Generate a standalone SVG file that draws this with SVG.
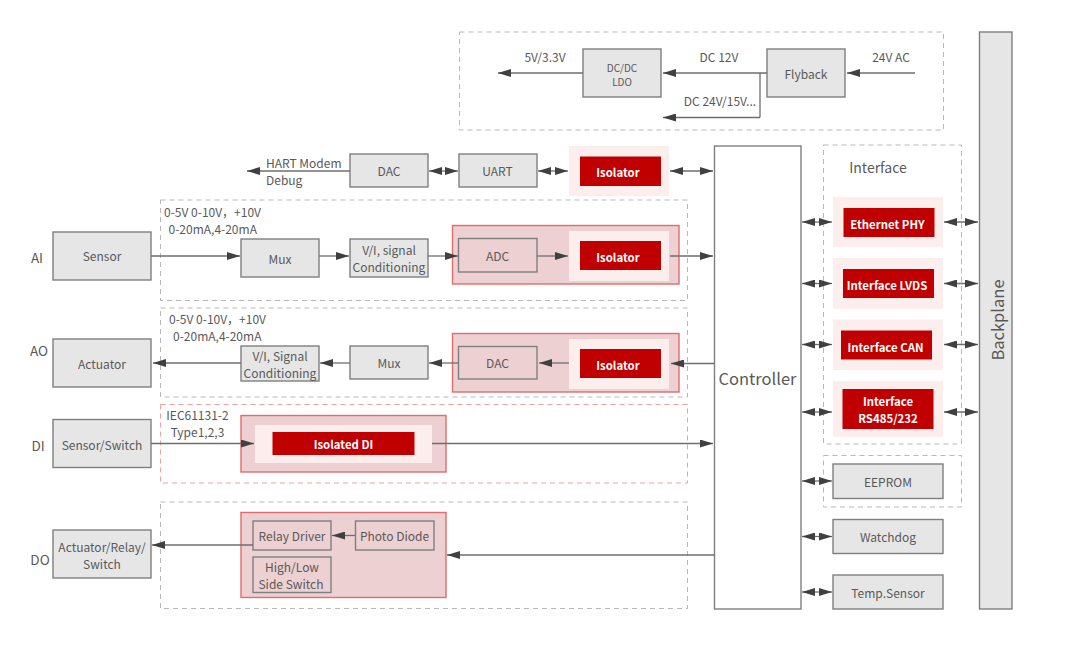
<svg xmlns="http://www.w3.org/2000/svg" width="1080" height="646" viewBox="0 0 1080 646">
<style>
text{font-family:"Noto Sans CJK SC","Noto Sans",sans-serif;font-size:12px;fill:#595959;text-anchor:middle;dominant-baseline:central}
.s{text-anchor:start}
.g{fill:#e6e6e6;stroke:#7f7f7f;stroke-width:1.4}
.n{fill:none;stroke:#7f7f7f;stroke-width:1.4}
.p{fill:#edd0d2;stroke:#e06c6c;stroke-width:1.4}
.o{fill:#fdeeee}
.r{fill:#c00000}
.w{fill:#fff;stroke:#7f7f7f;stroke-width:1.4}
.d{fill:none;stroke:#b8b8b8;stroke-width:1;stroke-dasharray:5 4}
.dr{fill:none;stroke:#f0a0a0;stroke-width:1;stroke-dasharray:5 4}
.t{fill:#fff;font-weight:700;font-size:11.400px}
.l{fill:none;stroke:#6e6e6e;stroke-width:1.3}
.a{marker-end:url(#h)}
.b{marker-end:url(#h);marker-start:url(#hs)}
</style>
<defs>
<marker id="h" markerUnits="userSpaceOnUse" markerWidth="14" markerHeight="8" refX="13" refY="4" orient="auto"><path d="M0 0L13 4L0 8Z" fill="#404040"/></marker>
<marker id="hs" markerUnits="userSpaceOnUse" markerWidth="14" markerHeight="8" refX="0" refY="4" orient="auto"><path d="M13 0L0 4L13 8Z" fill="#404040"/></marker>
</defs>
<g id="frames">
<rect class="d" x="459.500" y="32" width="484" height="98"/>
<rect class="d" x="160.500" y="200" width="527" height="100.500"/>
<rect class="d" x="160.500" y="308" width="527" height="89"/>
<rect class="dr" x="160.500" y="404.500" width="527" height="78.500"/>
<rect class="d" x="160.500" y="502" width="527" height="106.500"/>
<rect class="d" x="823.500" y="145" width="138" height="299"/>
<rect class="d" x="823.500" y="455.500" width="138" height="51.500"/>
</g>
<g id="power-labels">
<text x="545" y="56">5V/3.3V</text>
<text x="719" y="56">DC 12V</text>
<text x="720" y="100">DC 24V/15V...</text>
<text x="891" y="56">24V AC</text>
</g>
<g id="dcdc"><rect class="g" x="583" y="49" width="78" height="48"/><text x="622" y="67" style="font-size:10px">DC/DC</text><text x="622" y="81" style="font-size:10px">LDO</text></g>
<g id="flyback"><rect class="g" x="767" y="49" width="78" height="48"/><text x="806" y="73.500">Flyback</text></g>
<g id="hart"><text class="s" x="266" y="162">HART Modem</text><text class="s" x="266" y="179.500">Debug</text></g>
<g id="dac1"><rect class="g" x="350" y="154" width="78" height="33"/><text x="389" y="170.500">DAC</text></g>
<g id="uart"><rect class="g" x="459" y="154" width="78" height="33"/><text x="497.500" y="170.500">UART</text></g>
<g id="isolator1"><rect class="o" x="569" y="146" width="100" height="50"/><rect class="r" x="580" y="156.500" width="81" height="29.500"/><text class="t" x="618" y="172">Isolator</text></g>
<g id="controller"><rect class="w" x="714.500" y="146" width="86.500" height="463"/><text x="757.500" y="377.500" style="font-size:16.500px">Controller</text></g>
<g id="ai"><text x="37" y="256.500" style="font-size:13.500px">AI</text><text class="s" x="164" y="211">0-5V 0-10V，+10V</text><text class="s" x="168.500" y="228">0-20mA,4-20mA</text></g>
<g id="sensor"><rect class="g" x="53" y="232" width="98" height="48"/><text x="102" y="255.500">Sensor</text></g>
<g id="mux1"><rect class="g" x="241" y="239" width="78" height="38"/><text x="280" y="258">Mux</text></g>
<g id="vi1"><rect class="g" x="350" y="239" width="78" height="38"/><text x="389" y="249.500">V/I, signal</text><text x="389" y="266.500">Conditioning</text></g>
<g id="ai-iso"><rect class="p" x="452.500" y="225.500" width="226.500" height="58.500"/><rect class="o" x="569" y="231" width="100" height="50"/><rect class="r" x="580" y="241" width="81" height="29"/><text class="t" x="618" y="256.500">Isolator</text></g>
<g id="adc"><rect x="458.500" y="238.500" width="78.500" height="33.500" class="n"/><text x="497.500" y="255.500">ADC</text></g>
<g id="ao"><text x="39" y="349.500" style="font-size:13.500px">AO</text><text class="s" x="169" y="318">0-5V 0-10V，+10V</text><text class="s" x="173" y="335.500">0-20mA,4-20mA</text></g>
<g id="actuator"><rect class="g" x="53" y="339" width="98" height="48"/><text x="102" y="363.500">Actuator</text></g>
<g id="vi2"><rect class="g" x="241" y="346" width="78" height="35"/><text x="280" y="355.500">V/I, Signal</text><text x="280" y="372.500">Conditioning</text></g>
<g id="mux2"><rect class="g" x="350" y="346" width="78" height="33"/><text x="389" y="362.500">Mux</text></g>
<g id="ao-iso"><rect class="p" x="452.500" y="333.500" width="226.500" height="58.500"/><rect class="o" x="569" y="339" width="100" height="50"/><rect class="r" x="580" y="349" width="81" height="29"/><text class="t" x="618" y="364.500">Isolator</text></g>
<g id="dac2"><rect class="n" x="458.500" y="346.500" width="78.500" height="32.500"/><text x="497.500" y="362.500">DAC</text></g>
<g id="di"><text x="38" y="444.500" style="font-size:13.500px">DI</text><text x="197.500" y="414">IEC61131-2</text><text x="197.500" y="431">Type1,2,3</text></g>
<g id="sensor-switch"><rect class="g" x="53" y="419.500" width="98" height="48"/><text x="102" y="444">Sensor/Switch</text></g>
<g id="isolated-di"><rect class="p" x="241" y="415.500" width="205" height="56.500"/><rect class="o" x="255" y="425" width="177" height="38"/><rect class="r" x="272.500" y="432" width="142" height="23"/><text class="t" x="343.500" y="443.500">Isolated DI</text></g>
<g id="do"><text x="40" y="558.500" style="font-size:13.500px">DO</text></g>
<g id="actuator-relay"><rect class="g" x="53" y="530" width="98" height="48"/><text x="102" y="546">Actuator/Relay/</text><text x="102" y="563">Switch</text></g>
<g id="do-box"><rect class="p" x="241" y="512.500" width="205" height="85"/></g>
<g id="relay-driver"><rect class="n" x="253" y="521" width="78" height="29"/><text x="292" y="535.500">Relay Driver</text></g>
<g id="photo-diode"><rect class="n" x="355.500" y="521" width="78.500" height="29"/><text x="394.500" y="535.500">Photo Diode</text></g>
<g id="high-low"><rect class="n" x="253" y="557" width="78" height="35.500"/><text x="292" y="566">High/Low</text><text x="291" y="583">Side Switch</text></g>
<g id="interface"><text x="878" y="166.500" style="font-size:14px">Interface</text></g>
<g id="ethernet"><rect class="o" x="833" y="197" width="110" height="50"/><rect class="r" x="843.500" y="208" width="91" height="29"/><text class="t" x="887.500" y="223.500">Ethernet PHY</text></g>
<g id="lvds"><rect class="o" x="833" y="258" width="110" height="51"/><rect class="r" x="843" y="269" width="91" height="29"/><text class="t" x="887" y="284.500">Interface LVDS</text></g>
<g id="can"><rect class="o" x="833" y="319.500" width="110" height="50.500"/><rect class="r" x="841" y="330.500" width="91" height="29"/><text class="t" x="885.500" y="346.500">Interface CAN</text></g>
<g id="rs485"><rect class="o" x="833" y="381" width="110" height="56"/><rect class="r" x="842.500" y="389" width="91" height="40"/><text class="t" x="888" y="401">Interface</text><text class="t" x="888" y="418">RS485/232</text></g>
<g id="eeprom"><rect class="g" x="833" y="464" width="110" height="34.500"/><text x="888" y="481">EEPROM</text></g>
<g id="watchdog"><rect class="g" x="833" y="519.500" width="110" height="34"/><text x="888" y="536.500">Watchdog</text></g>
<g id="temp"><rect class="g" x="833" y="575" width="110" height="34"/><text x="888" y="592">Temp.Sensor</text></g>
<g id="backplane"><rect class="g" x="979.500" y="32" width="32.500" height="577"/><text transform="translate(997 320) rotate(-90)" style="font-size:16.500px">Backplane</text></g>
<g id="connectors">
<path class="l a" d="M583 73H498"/>
<path class="l a" d="M767 73H663"/>
<path class="l" d="M760 73V117.500"/>
<path class="l a" d="M760 117.500H663"/>
<path class="l a" d="M915 73H847"/>
<path class="l a" d="M350 171H247"/>
<path class="l b" d="M429 171H458"/>
<path class="l b" d="M538 171H568"/>
<path class="l b" d="M670 171H713"/>
<path class="l a" d="M151 256H240"/>
<path class="l a" d="M319 256H349"/>
<path class="l a" d="M428 256H458"/>
<path class="l a" d="M537 256H568"/>
<path class="l a" d="M670 256H713"/>
<path class="l a" d="M714 363.500H671"/>
<path class="l a" d="M569 363H539"/>
<path class="l a" d="M458 363H429"/>
<path class="l a" d="M350 363H320"/>
<path class="l a" d="M241 363H153"/>
<path class="l a" d="M151 443.500H254"/>
<path class="l a" d="M432 443.500H713"/>
<path class="l a" d="M253 545H152"/>
<path class="l a" d="M355 535.500H332"/>
<path class="l a" d="M714 555H447"/>
<path class="l b" d="M802 222H832"/>
<path class="l b" d="M802 283.500H832"/>
<path class="l b" d="M802 344.500H832"/>
<path class="l b" d="M802 412H832"/>
<path class="l b" d="M944 222H978"/>
<path class="l b" d="M944 283.500H978"/>
<path class="l b" d="M944 344.500H978"/>
<path class="l b" d="M944 412H978"/>
<path class="l b" d="M802 481H832"/>
<path class="l b" d="M802 536.500H832"/>
<path class="l b" d="M802 592H832"/>
</g>
</svg>
